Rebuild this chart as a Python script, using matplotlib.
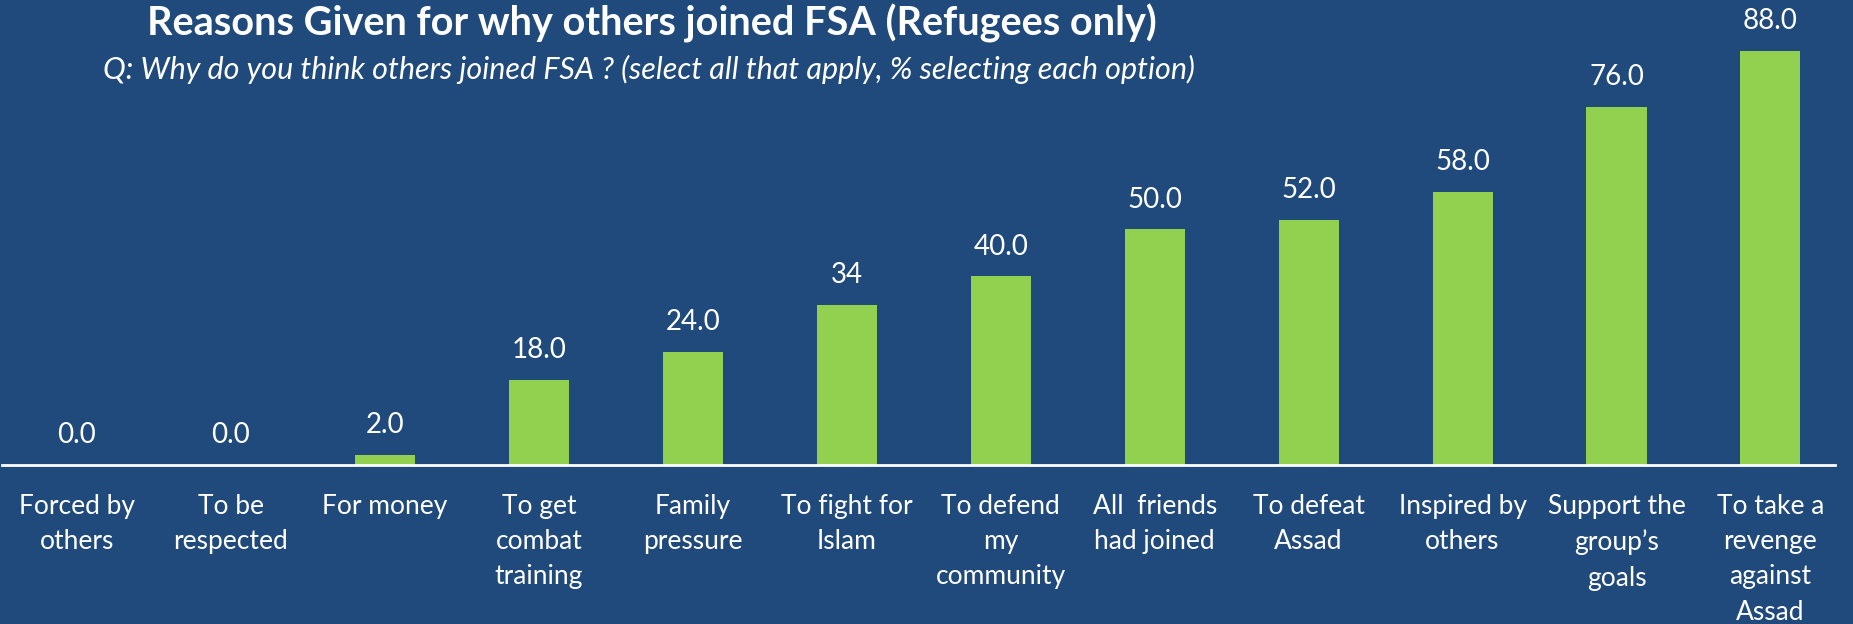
import matplotlib; matplotlib.use("agg")
import matplotlib.pyplot as plt

categories = ["Forced by\nothers", "To be\nrespected", "For money", "To get\ncombat\ntraining",
              "Family\npressure", "To fight for\nIslam", "To defend\nmy\ncommunity",
              "All  friends\nhad joined", "To defeat\nAssad", "Inspired by\nothers",
              "Support the\ngroup\u2019s\ngoals", "To take a\nrevenge\nagainst\nAssad"]
values = [0, 0, 2, 18, 24, 34, 40, 50, 52, 58, 76, 88]
value_labels = ["0.0", "0.0", "2.0", "18.0", "24.0", "34", "40.0", "50.0", "52.0", "58.0", "76.0", "88.0"]

title = "Reasons Given for why others joined FSA (Refugees only)"
subtitle = "Q: Why do you think others joined FSA ? (select all that apply, % selecting each option)"

BG = "#204a7c"
GREEN = "#92d050"
plt.rcParams["font.family"] = ["Lato", "DejaVu Sans"]

fig = plt.figure(figsize=(18.53, 6.24), dpi=100, facecolor=BG)
ax = fig.add_axes([0.0, 0.2556, 0.997, 0.7444], facecolor=BG)

x = range(len(categories))
ax.bar(x, values, width=0.39, color=GREEN, zorder=2)
for xi, v, lab in zip(x, values, value_labels):
    ax.annotate(lab, (xi, v), xytext=(0, 21.5), textcoords="offset points",
                ha="center", va="center", color="white", fontsize=20)

ax.set_xlim(-0.5, len(categories) - 0.5)
ax.set_ylim(0, 98.8)
ax.set_xticks(list(x))
ax.set_xticklabels(categories, color="white", fontsize=19, linespacing=1.52, va="top")
ax.tick_params(axis="x", length=0, pad=21)
ax.set_yticks([])
for s in ["top", "right", "left"]:
    ax.spines[s].set_visible(False)
ax.spines["bottom"].set_color("white")
ax.spines["bottom"].set_linewidth(2)
ax.spines["bottom"].set_bounds(-0.49, 11.42)

fig.text(0.352, 1 - 23.6 / 624, title, ha="center", va="center", color="white",
         fontsize=28.5, fontweight="bold")
fig.text(0.350, 1 - 69.7 / 624, subtitle, ha="center", va="center", color="white",
         fontsize=22, style="italic")

fig.savefig("out.png", dpi=100, facecolor=BG)
